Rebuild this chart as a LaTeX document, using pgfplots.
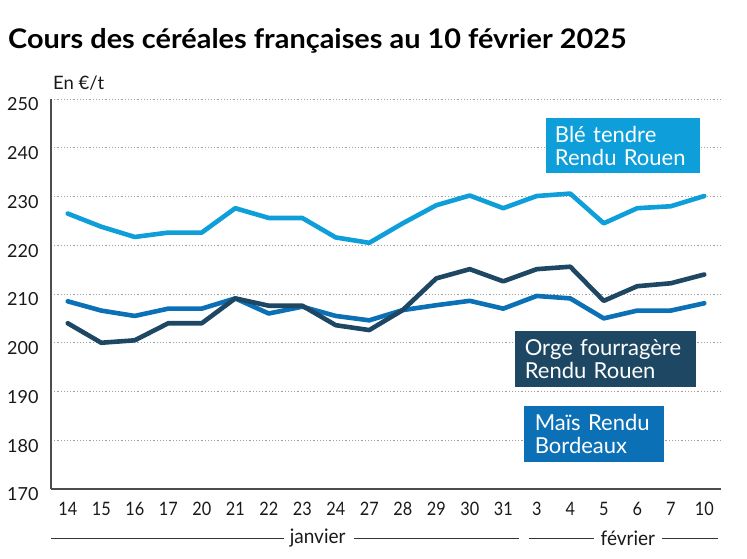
\documentclass[border=0pt]{standalone}
\usepackage{fontspec}
\setmainfont{Lato}
\newfontfamily\condfont[FakeStretch=0.88]{Lato}
\newfontfamily\monthfont[FakeStretch=0.95]{Lato}
\newfontfamily\titlefont[FakeStretch=1.07]{Lato}
\usepackage{pgfplots}
\pgfplotsset{compat=1.18}
\usepackage{pgfplotstable}

\definecolor{ble}{RGB}{14,158,218}
\definecolor{mais}{RGB}{11,112,181}
\definecolor{orge}{RGB}{30,71,99}
\definecolor{txt}{RGB}{25,25,25}

% x = position of the day (0..19), y = price in EUR/t
\pgfplotstableread{
x  ble    orge   mais
0  226.5  204.0  208.5
1  223.8  200.0  206.6
2  221.7  200.5  205.5
3  222.6  204.0  207.0
4  222.6  204.0  207.0
5  227.6  209.1  209.1
6  225.6  207.6  206.0
7  225.6  207.6  207.4
8  221.6  203.6  205.5
9  220.5  202.6  204.6
10 224.5  206.7  206.7
11 228.2  213.2  207.7
12 230.2  215.1  208.6
13 227.6  212.6  207.0
14 230.1  215.1  209.6
15 230.6  215.6  209.1
16 224.5  208.6  205.0
17 227.6  211.6  206.6
18 228.0  212.2  206.6
19 230.1  214.0  208.1
}\prix

\begin{document}
\begin{tikzpicture}
\useasboundingbox (0,0) rectangle (747pt,558pt);
\node[anchor=base west, text=black, inner sep=0pt, font=\titlefont\bfseries\fontsize{27}{27}\selectfont] at (8pt,509.7pt)
  {Cours des céréales françaises au 10 février 2025};
\node[anchor=base west, text=txt, font=\fontsize{18.5}{18.5}\selectfont, inner sep=0pt] at (53pt,468.7pt) {En €/t};
\begin{axis}[
  at={(51pt,69pt)}, anchor=south west,
  scale only axis, width=670pt, height=390pt,
  xmin=-0.5, xmax=19.5, ymin=170, ymax=250,
  xtick={0,...,19},
  xticklabels={14,15,16,17,20,21,22,23,24,27,28,29,30,31,3,4,5,6,7,10},
  ytick={170,180,...,250},
  axis x line*=bottom, axis y line*=left,
  axis line style={-, draw=black!70, line width=1.2pt},
  major tick length=0pt,
  ymajorgrids,
  grid style={draw=gray!75, line width=1pt, dash pattern=on 1.1pt off 2.1pt},
  /pgf/number format/assume math mode=true,
  ticklabel style={text=txt},
  yticklabel style={anchor=east, xshift=-9pt, yshift=-5.5pt, font=\fontsize{18}{18}\selectfont},
  xticklabel style={anchor=center, yshift=-20pt, font=\condfont\fontsize{18.5}{18.5}\selectfont},
  clip=false,
]
\addplot[ble, line width=4.6pt, line join=round, line cap=round] table[x=x, y=ble] {\prix};
\addplot[mais, line width=4.6pt, line join=round, line cap=round] table[x=x, y=mais] {\prix};
\addplot[orge, line width=4.6pt, line join=round, line cap=round] table[x=x, y=orge] {\prix};

% label boxes
\node[anchor=north west, fill=ble, text=white, align=left, inner xsep=9pt, inner ysep=0pt,
  minimum height=55pt, text width=136pt, font=\fontsize{22}{23}\selectfont]
  at (axis cs:14.27,246.1) {Blé tendre\\Rendu Rouen};
\node[anchor=north west, fill=orge, text=white, align=left, inner xsep=10pt, inner ysep=0pt,
  minimum height=56pt, text width=161pt, font=\fontsize{22}{23}\selectfont]
  at (axis cs:13.34,202.4) {Orge fourragère\\Rendu Rouen};
\node[anchor=north west, fill=mais, text=white, align=left, inner xsep=11pt, inner ysep=0pt,
  minimum height=56pt, text width=118pt, font=\fontsize{22}{23}\selectfont]
  at (axis cs:13.61,187.0) {Maïs Rendu\\Bordeaux};

% month brackets
\draw[black!80, line width=0.9pt] (axis cs:-0.5,159.9) -- (axis cs:6.45,159.9);
\draw[black!80, line width=0.9pt] (axis cs:8.54,159.9) -- (axis cs:13.46,159.9);
\node[text=txt, font=\monthfont\fontsize{20}{20}\selectfont] at (axis cs:7.46,159.9) {janvier};
\draw[black!80, line width=0.9pt] (axis cs:13.76,159.9) -- (axis cs:15.70,159.9);
\draw[black!80, line width=0.9pt] (axis cs:17.73,159.9) -- (axis cs:19.40,159.9);
\node[text=txt, font=\monthfont\fontsize{20}{20}\selectfont] at (axis cs:16.72,159.9) {février};
\end{axis}
\end{tikzpicture}
\end{document}
